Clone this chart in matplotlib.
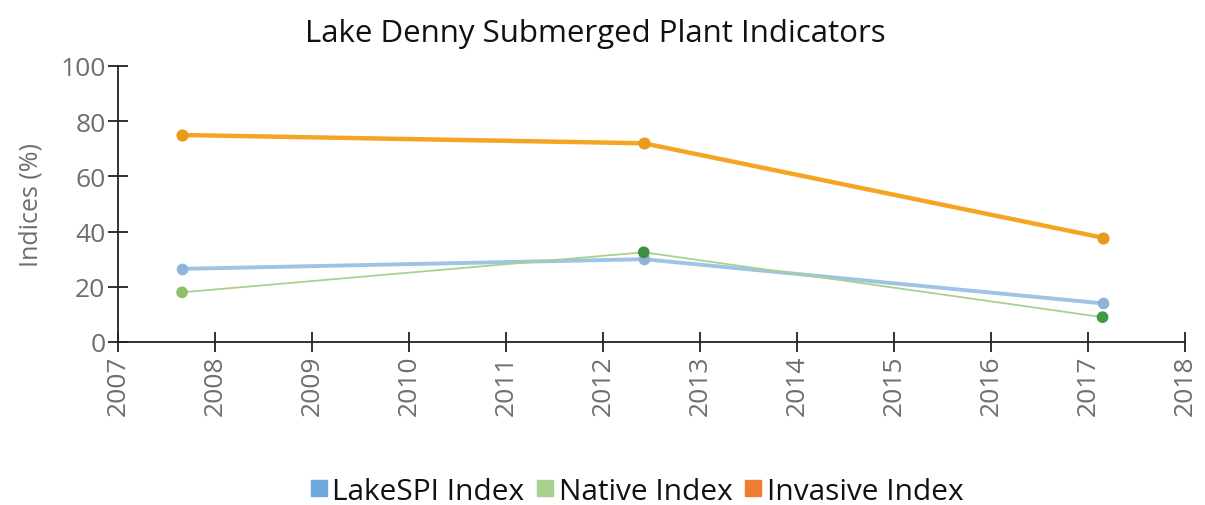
import matplotlib
matplotlib.use("Agg")
import matplotlib.pyplot as plt
from matplotlib.lines import Line2D

plt.rcParams['font.family'] = ['Open Sans', 'DejaVu Sans']

# Survey dates (decimal years) and index values
years = [2007.66, 2012.42, 2017.15]
lakespi = [26.5, 30.0, 14.0]
native = [18.0, 32.5, 9.0]
invasive = [75.0, 72.0, 37.8]

xticks = list(range(2007, 2019))
yticks = [0, 20, 40, 60, 80, 100]

fig = plt.figure(figsize=(12.05, 5.06), dpi=100)
ax = fig.add_axes([118/1205, 1 - 343/506, (1185-118)/1205, (343-67)/506])

c_blue, c_blue_m = '#9DC3E6', '#8FB4D9'
c_green = '#A9D18E'
c_green_m = ['#8CC06A', '#3F8F3F', '#3E9A45']
c_orange, c_orange_m = '#F4A623', '#E89A1C'

ax.plot(years, lakespi, color=c_blue, lw=2.8, zorder=3)
ax.scatter(years, lakespi, s=55, color=c_blue_m, zorder=4)
ax.plot(years, native, color=c_green, lw=1.3, zorder=3)
ax.scatter(years, native, s=55, color=c_green_m, zorder=5)
ax.plot(years, invasive, color=c_orange, lw=3.2, zorder=3)
ax.scatter(years, invasive, s=60, color=c_orange_m, zorder=4)

ax.set_xlim(2007, 2018)
ax.set_ylim(0, 100)
ax.set_xticks(xticks)
ax.set_xticklabels([str(t) for t in xticks], rotation=90)
ax.set_yticks(yticks)
for s in ['top', 'right']:
    ax.spines[s].set_visible(False)
for s in ['left', 'bottom']:
    ax.spines[s].set_color('#222222')
    ax.spines[s].set_linewidth(1.3)
ax.tick_params(axis='both', direction='inout', length=14, width=1.3,
               colors='#222222', labelcolor='#6E6E6E', labelsize=19, pad=2)

ax.set_ylabel('Indices (%)', fontsize=18, color='#6E6E6E', labelpad=12)
fig.text(0.494, 0.932, 'Lake Denny Submerged Plant Indicators', ha='center',
         va='center', fontsize=22.5, color='#111111')

handles = [
    Line2D([], [], ls='none', marker='s', ms=12, color='#6FA8DC', label='LakeSPI Index'),
    Line2D([], [], ls='none', marker='s', ms=12, color='#A9D18E', label='Native Index'),
    Line2D([], [], ls='none', marker='s', ms=12, color='#ED7D31', label='Invasive Index'),
]
fig.legend(handles=handles, loc='center', bbox_to_anchor=(0.527, 0.027), ncol=3,
           frameon=False, fontsize=21.5, handletextpad=0.05, columnspacing=0.3,
           handlelength=0.8, labelcolor='#111111')

fig.savefig('out.png', dpi=100, facecolor='white')
